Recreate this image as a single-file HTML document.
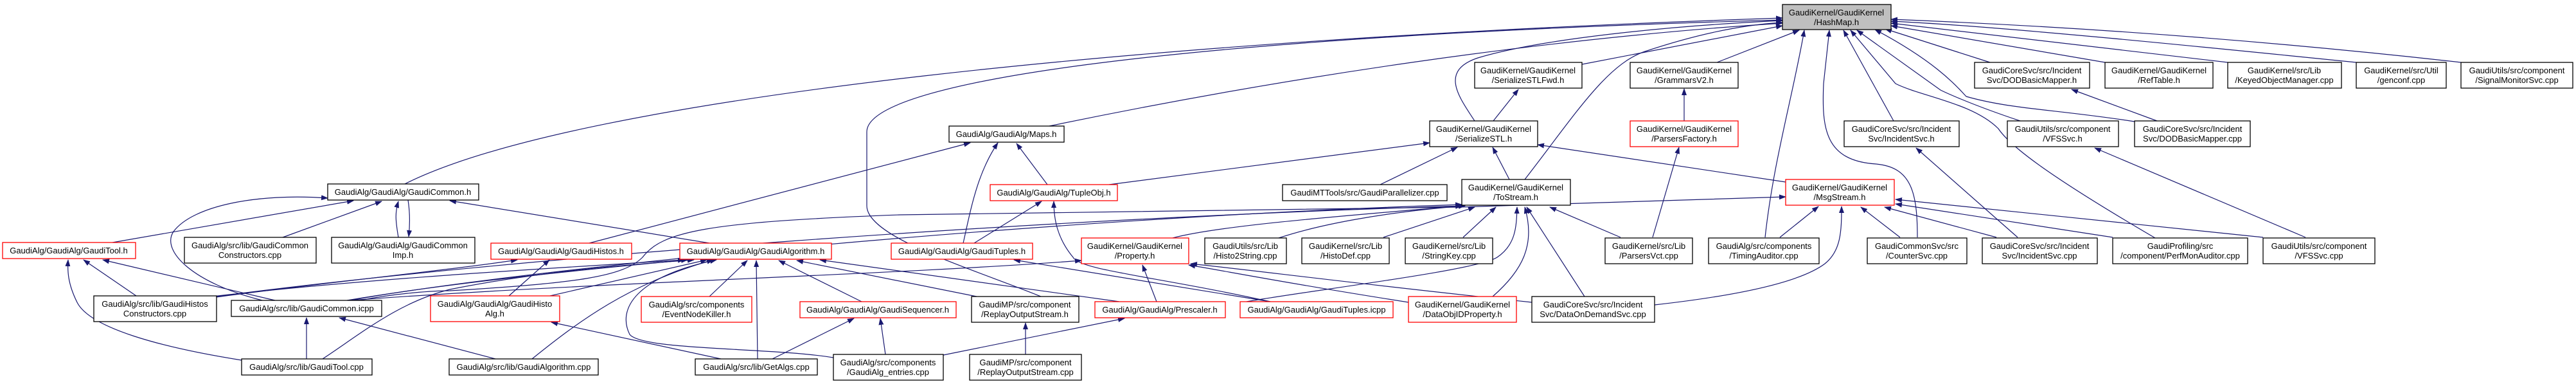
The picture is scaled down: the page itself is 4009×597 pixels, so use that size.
<!DOCTYPE html>
<html><head><meta charset="utf-8"><style>
html,body{margin:0;padding:0;background:#fff;}
svg{display:block}
text{font-family:"Liberation Sans",Arial,sans-serif;font-size:13px;fill:#000;text-anchor:middle}
.e{fill:none;stroke:#191970;stroke-width:1.2;marker-end:url(#a)}
.n{fill:#fff;stroke:#000;stroke-width:1.3}
.r{fill:#fff;stroke:#ff0000;stroke-width:1.3}
</style></head><body>
<svg width="4009" height="597" viewBox="0 0 4009 597" xmlns="http://www.w3.org/2000/svg">
<defs><marker id="a" markerWidth="11" markerHeight="8" refX="10" refY="4" orient="auto" markerUnits="userSpaceOnUse"><path d="M0,0 L11,4 L0,8 z" fill="#191970"/></marker></defs>
<g>
<path class="e" d="M630,286 C900,150 1800,60 2774,28"/>
<path class="e" d="M1620,461 C1520,420 1349,370 1349,320 L1349,205 C1349,120 1900,55 2774,31"/>
<path class="e" d="M1633,196 C2000,120 2400,60 2774,36"/>
<path class="e" d="M2295,188 C2270,150 2240,110 2300,90 C2400,60 2600,40 2774,32"/>
<path class="e" d="M2373,279 C2450,180 2500,100 2560,80 C2650,50 2720,38 2774,35"/>
<path class="e" d="M2462,100 L2774,40"/>
<path class="e" d="M2672,97 L2800,47"/>
<path class="e" d="M2747,369 C2760,250 2790,150 2808,47"/>
<path class="e" d="M2984,369 C2984,300 2975,260 2920,255 C2840,250 2835,200 2838,130 L2847,47"/>
<path class="e" d="M2947,188 L2869,47"/>
<path class="e" d="M3354,370 C3200,280 3130,230 3110,200 C3070,160 2990,150 2950,130 L2880,47"/>
<path class="e" d="M3144,188 C3060,160 3020,140 3020,140 L2890,47"/>
<path class="e" d="M3322,189 C3200,170 3130,170 3060,150 C3050,140 3020,100 2918,46"/>
<path class="e" d="M3097,97 L2934,45"/>
<path class="e" d="M3276,97 L2943,40"/>
<path class="e" d="M3467,97 L2943,36"/>
<path class="e" d="M3667,97 C3400,70 3100,40 2943,33"/>
<path class="e" d="M3830,97 C3500,60 3200,40 2943,30"/>
<path class="e" d="M2324,188 L2363,139"/>
<path class="e" d="M2621,188 L2621,138"/>
<path class="e" d="M2572,369 L2613,229"/>
<path class="e" d="M2349,279 L2323,229"/>
<path class="e" d="M2148,287 L2268,229"/>
<path class="e" d="M2779,283 L2393,225"/>
<path class="e" d="M1726,287 L2225,222"/>
<path class="e" d="M560,467 C620,455 680,452 700,452 C900,440 970,430 1000,400 C1030,360 1100,345 1400,334 L2270,322 L2779,306"/>
<path class="e" d="M1825,370 C1900,350 2100,335 2275,320"/>
<path class="e" d="M1990,370 C2050,350 2150,330 2280,320"/>
<path class="e" d="M2153,369 L2295,322"/>
<path class="e" d="M2277,369 L2328,322"/>
<path class="e" d="M2522,369 L2412,322"/>
<path class="e" d="M2466,461 L2376,322"/>
<path class="e" d="M2323,461 C2370,420 2390,380 2373,322"/>
<path class="e" d="M1940,469 C2050,450 2300,420 2330,400 C2360,380 2360,350 2361,322"/>
<path class="e" d="M545,467 C800,420 1600,340 2275,318"/>
<path class="e" d="M336,461 C800,400 1600,340 2280,320"/>
<path class="e" d="M545,467 C900,440 1400,427 1683,405"/>
<path class="e" d="M540,467 C700,440 900,420 1070,404"/>
<path class="e" d="M330,461 C600,430 900,415 1065,404"/>
<path class="e" d="M856,460 L1100,404"/>
<path class="e" d="M828,558 C900,500 980,440 1110,404"/>
<path class="e" d="M1179,558 L1177,405"/>
<path class="e" d="M1104,461 L1163,405"/>
<path class="e" d="M1341,469 L1212,405"/>
<path class="e" d="M1520,461 L1240,405"/>
<path class="e" d="M1742,469 L1276,404"/>
<path class="e" d="M1297,556 C1200,540 1000,545 980,520 C960,480 990,430 1115,404"/>
<path class="e" d="M1104,378 L700,312"/>
<path class="e" d="M502,558 C560,520 620,470 700,450 C850,420 1000,410 1080,404"/>
<path class="e" d="M792,460 L855,404"/>
<path class="e" d="M336,462 C500,440 700,420 805,404"/>
<path class="e" d="M917,378 L1510,222"/>
<path class="e" d="M1122,558 L858,501"/>
<path class="e" d="M1202,558 L1329,495"/>
<path class="e" d="M1378,551 L1370,495"/>
<path class="e" d="M1468,552 L1750,495"/>
<path class="e" d="M1596,551 L1596,502"/>
<path class="e" d="M1800,469 L1778,412"/>
<path class="e" d="M2192,470 C2000,440 1900,420 1850,412"/>
<path class="e" d="M2384,470 C2100,440 1950,420 1853,410"/>
<path class="e" d="M1977,469 L1578,404"/>
<path class="e" d="M1516,378 L1621,313"/>
<path class="e" d="M1977,469 C1800,430 1680,420 1670,400 C1645,370 1640,340 1640,313"/>
<path class="e" d="M1499,378 C1510,330 1520,270 1553,222"/>
<path class="e" d="M1630,287 L1582,223"/>
<path class="e" d="M175,377 L550,312"/>
<path class="e" d="M440,369 L594,313"/>
<path class="e" d="M620,369 C615,340 615,330 620,313"/>
<path class="e" d="M635,311 C638,330 638,350 636,368"/>
<path class="e" d="M408,467 C300,440 250,390 270,360 C300,320 400,300 510,308"/>
<path class="e" d="M212,460 L130,404"/>
<path class="e" d="M428,467 L160,404"/>
<path class="e" d="M376,560 C250,540 140,510 120,470 C105,440 105,420 106,404"/>
<path class="e" d="M477,558 L477,494"/>
<path class="e" d="M771,558 L528,494"/>
<path class="e" d="M2770,369 L2830,321"/>
<path class="e" d="M2957,369 L2896,322"/>
<path class="e" d="M3107,369 L2933,322"/>
<path class="e" d="M3288,369 L2950,317"/>
<path class="e" d="M3522,369 L2950,310"/>
<path class="e" d="M2575,474 C2700,460 2800,440 2840,410 C2865,390 2866,360 2866,321"/>
<path class="e" d="M3140,369 L2982,230"/>
<path class="e" d="M3588,369 L3260,230"/>
<path class="e" d="M3357,188 L3224,139"/>
</g>
<g>
<rect x="2774" y="7" width="169" height="39" fill="#bfbfbf" stroke="#000" stroke-width="1.3"/><text x="2858" y="24">GaudiKernel/GaudiKernel</text><text x="2858" y="39">/HashMap.h</text>
<rect class="n" x="2295" y="97" width="167" height="40"/><text x="2378" y="114">GaudiKernel/GaudiKernel</text><text x="2378" y="129">/SerializeSTLFwd.h</text>
<rect class="n" x="2537" y="97" width="168" height="40"/><text x="2621" y="114">GaudiKernel/GaudiKernel</text><text x="2621" y="129">/GrammarsV2.h</text>
<rect class="n" x="3073" y="97" width="179" height="40"/><text x="3162" y="114">GaudiCoreSvc/src/Incident</text><text x="3162" y="129">Svc/DODBasicMapper.h</text>
<rect class="n" x="3276" y="97" width="168" height="40"/><text x="3360" y="114">GaudiKernel/GaudiKernel</text><text x="3360" y="129">/RefTable.h</text>
<rect class="n" x="3467" y="97" width="177" height="40"/><text x="3555" y="114">GaudiKernel/src/Lib</text><text x="3555" y="129">/KeyedObjectManager.cpp</text>
<rect class="n" x="3667" y="97" width="140" height="40"/><text x="3737" y="114">GaudiKernel/src/Util</text><text x="3737" y="129">/genconf.cpp</text>
<rect class="n" x="3830" y="97" width="174" height="40"/><text x="3917" y="114">GaudiUtils/src/component</text><text x="3917" y="129">/SignalMonitorSvc.cpp</text>
<rect class="n" x="1477" y="196" width="179" height="25"/><text x="1566" y="213">GaudiAlg/GaudiAlg/Maps.h</text>
<rect class="n" x="2225" y="188" width="168" height="40"/><text x="2309" y="205">GaudiKernel/GaudiKernel</text><text x="2309" y="220">/SerializeSTL.h</text>
<rect class="r" x="2537" y="188" width="168" height="40"/><text x="2621" y="205">GaudiKernel/GaudiKernel</text><text x="2621" y="220">/ParsersFactory.h</text>
<rect class="n" x="2870" y="188" width="179" height="40"/><text x="2959" y="205">GaudiCoreSvc/src/Incident</text><text x="2959" y="220">Svc/IncidentSvc.h</text>
<rect class="n" x="3124" y="188" width="173" height="40"/><text x="3210" y="205">GaudiUtils/src/component</text><text x="3210" y="220">/VFSSvc.h</text>
<rect class="n" x="3322" y="188" width="180" height="40"/><text x="3412" y="205">GaudiCoreSvc/src/Incident</text><text x="3412" y="220">Svc/DODBasicMapper.cpp</text>
<rect class="n" x="510" y="286" width="235" height="25"/><text x="627" y="303">GaudiAlg/GaudiAlg/GaudiCommon.h</text>
<rect class="r" x="1541" y="287" width="198" height="25"/><text x="1640" y="304">GaudiAlg/GaudiAlg/TupleObj.h</text>
<rect class="n" x="1996" y="287" width="256" height="25"/><text x="2124" y="304">GaudiMTTools/src/GaudiParallelizer.cpp</text>
<rect class="n" x="2275" y="279" width="169" height="40"/><text x="2359" y="296">GaudiKernel/GaudiKernel</text><text x="2359" y="311">/ToStream.h</text>
<rect class="r" x="2779" y="279" width="169" height="40"/><text x="2863" y="296">GaudiKernel/GaudiKernel</text><text x="2863" y="311">/MsgStream.h</text>
<rect class="r" x="4" y="377" width="207" height="25"/><text x="107" y="394">GaudiAlg/GaudiAlg/GaudiTool.h</text>
<rect class="n" x="287" y="369" width="205" height="40"/><text x="389" y="386">GaudiAlg/src/lib/GaudiCommon</text><text x="389" y="401">Constructors.cpp</text>
<rect class="n" x="516" y="369" width="223" height="40"/><text x="627" y="386">GaudiAlg/GaudiAlg/GaudiCommon</text><text x="627" y="401">Imp.h</text>
<rect class="r" x="764" y="378" width="219" height="25"/><text x="873" y="395">GaudiAlg/GaudiAlg/GaudiHistos.h</text>
<rect class="r" x="1058" y="378" width="236" height="25"/><text x="1176" y="395">GaudiAlg/GaudiAlg/GaudiAlgorithm.h</text>
<rect class="r" x="1387" y="378" width="220" height="25"/><text x="1497" y="395">GaudiAlg/GaudiAlg/GaudiTuples.h</text>
<rect class="r" x="1683" y="370" width="167" height="40"/><text x="1766" y="387">GaudiKernel/GaudiKernel</text><text x="1766" y="402">/Property.h</text>
<rect class="n" x="1875" y="370" width="127" height="40"/><text x="1938" y="387">GaudiUtils/src/Lib</text><text x="1938" y="402">/Histo2String.cpp</text>
<rect class="n" x="2026" y="370" width="136" height="40"/><text x="2094" y="387">GaudiKernel/src/Lib</text><text x="2094" y="402">/HistoDef.cpp</text>
<rect class="n" x="2187" y="370" width="136" height="40"/><text x="2255" y="387">GaudiKernel/src/Lib</text><text x="2255" y="402">/StringKey.cpp</text>
<rect class="n" x="2498" y="370" width="136" height="40"/><text x="2566" y="387">GaudiKernel/src/Lib</text><text x="2566" y="402">/ParsersVct.cpp</text>
<rect class="n" x="2659" y="370" width="172" height="40"/><text x="2745" y="387">GaudiAlg/src/components</text><text x="2745" y="402">/TimingAuditor.cpp</text>
<rect class="n" x="2906" y="370" width="155" height="40"/><text x="2983" y="387">GaudiCommonSvc/src</text><text x="2983" y="402">/CounterSvc.cpp</text>
<rect class="n" x="3085" y="370" width="179" height="40"/><text x="3174" y="387">GaudiCoreSvc/src/Incident</text><text x="3174" y="402">Svc/IncidentSvc.cpp</text>
<rect class="n" x="3288" y="370" width="210" height="40"/><text x="3393" y="387">GaudiProfiling/src</text><text x="3393" y="402">/component/PerfMonAuditor.cpp</text>
<rect class="n" x="3522" y="370" width="174" height="40"/><text x="3609" y="387">GaudiUtils/src/component</text><text x="3609" y="402">/VFSSvc.cpp</text>
<rect class="n" x="146" y="460" width="191" height="40"/><text x="241" y="477">GaudiAlg/src/lib/GaudiHistos</text><text x="241" y="492">Constructors.cpp</text>
<rect class="n" x="360" y="467" width="234" height="25"/><text x="477" y="484">GaudiAlg/src/lib/GaudiCommon.icpp</text>
<rect class="r" x="670" y="460" width="201" height="40"/><text x="770" y="477">GaudiAlg/GaudiAlg/GaudiHisto</text><text x="770" y="492">Alg.h</text>
<rect class="r" x="998" y="461" width="172" height="40"/><text x="1084" y="478">GaudiAlg/src/components</text><text x="1084" y="493">/EventNodeKiller.h</text>
<rect class="r" x="1245" y="469" width="243" height="25"/><text x="1366" y="486">GaudiAlg/GaudiAlg/GaudiSequencer.h</text>
<rect class="n" x="1512" y="461" width="167" height="40"/><text x="1595" y="478">GaudiMP/src/component</text><text x="1595" y="493">/ReplayOutputStream.h</text>
<rect class="r" x="1704" y="469" width="203" height="25"/><text x="1805" y="486">GaudiAlg/GaudiAlg/Prescaler.h</text>
<rect class="r" x="1930" y="469" width="238" height="25"/><text x="2049" y="486">GaudiAlg/GaudiAlg/GaudiTuples.icpp</text>
<rect class="r" x="2192" y="461" width="168" height="40"/><text x="2276" y="478">GaudiKernel/GaudiKernel</text><text x="2276" y="493">/DataObjIDProperty.h</text>
<rect class="n" x="2384" y="461" width="191" height="40"/><text x="2479" y="478">GaudiCoreSvc/src/Incident</text><text x="2479" y="493">Svc/DataOnDemandSvc.cpp</text>
<rect class="n" x="376" y="558" width="203" height="25"/><text x="477" y="575">GaudiAlg/src/lib/GaudiTool.cpp</text>
<rect class="n" x="699" y="558" width="232" height="25"/><text x="815" y="575">GaudiAlg/src/lib/GaudiAlgorithm.cpp</text>
<rect class="n" x="1082" y="558" width="190" height="25"/><text x="1177" y="575">GaudiAlg/src/lib/GetAlgs.cpp</text>
<rect class="n" x="1297" y="551" width="171" height="40"/><text x="1382" y="568">GaudiAlg/src/components</text><text x="1382" y="583">/GaudiAlg_entries.cpp</text>
<rect class="n" x="1509" y="551" width="174" height="40"/><text x="1596" y="568">GaudiMP/src/component</text><text x="1596" y="583">/ReplayOutputStream.cpp</text>
</g>
</svg>
</body></html>
